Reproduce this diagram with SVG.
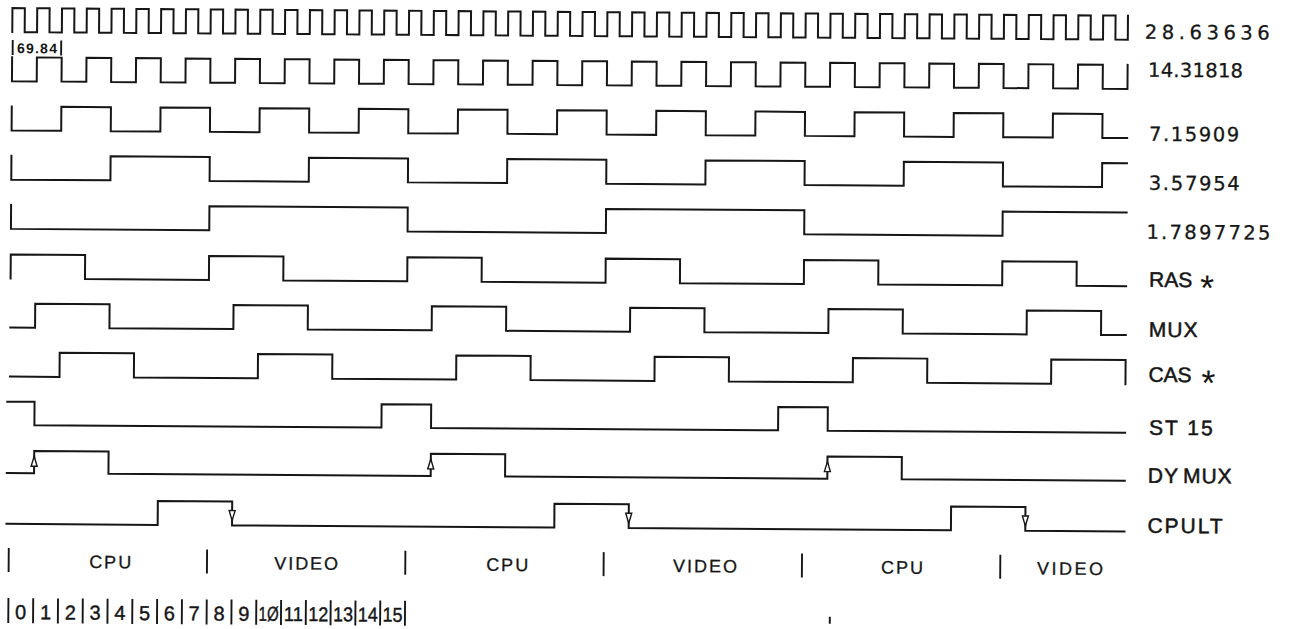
<svg xmlns="http://www.w3.org/2000/svg" width="1290" height="629" viewBox="0 0 1290 629">
<style>
.w{fill:none;stroke:#161616;stroke-width:2;stroke-linejoin:miter;stroke-linecap:square}
.t{stroke:#161616;stroke-width:1.9;fill:none}
.lbl{font-family:"Liberation Sans",Arial,sans-serif;font-size:21px;fill:#161616;stroke:#161616;stroke-width:0.5}
.fq{font-family:"DejaVu Sans","Liberation Sans",sans-serif;font-size:19.5px;fill:#161616;stroke:#161616;stroke-width:0.3}
.seg{font-family:"Liberation Sans",Arial,sans-serif;font-size:18px;fill:#161616;stroke:#161616;stroke-width:0.3;text-anchor:middle}
.num{font-family:"Liberation Sans",Arial,sans-serif;font-size:20px;fill:#161616;stroke:#161616;stroke-width:0.4;text-anchor:middle}
.arr{fill:#fff;stroke:#161616;stroke-width:1.4}
</style>
<defs>
<polygon id="up" class="arr" points="0,-5 3,5 -3,5"/>
<polygon id="dn" class="arr" points="0,5 3,-5 -3,-5"/>
</defs>
<rect width="1290" height="629" fill="#fff"/>
<g transform="rotate(0.39)">
<g id="clk-28">
<path class="w" d="M12.5 32V8
h12.395V32h12.395V8 h12.395V32h12.395V8 h12.395V32h12.395V8 h12.395V32h12.395V8 h12.395V32h12.395V8
h12.395V32h12.395V8 h12.395V32h12.395V8 h12.395V32h12.395V8 h12.395V32h12.395V8 h12.395V32h12.395V8
h12.395V32h12.395V8 h12.395V32h12.395V8 h12.395V32h12.395V8 h12.395V32h12.395V8 h12.395V32h12.395V8
h12.395V32h12.395V8 h12.395V32h12.395V8 h12.395V32h12.395V8 h12.395V32h12.395V8 h12.395V32h12.395V8
h12.395V32h12.395V8 h12.395V32h12.395V8 h12.395V32h12.395V8 h12.395V32h12.395V8 h12.395V32h12.395V8
h12.395V32h12.395V8 h12.395V32h12.395V8 h12.395V32h12.395V8 h12.395V32h12.395V8 h12.395V32h12.395V8
h12.395V32h12.395V8 h12.395V32h12.395V8 h12.395V32h12.395V8 h12.395V32h12.395V8 h12.395V32h12.395V8
h12.395V32h12.395V8 h12.395V32h12.395V8 h12.395V32h12.395V8 h12.395V32h12.395V8 h12.395V32h12.395V8
h12.395V32h12.395V8 h12.395V32h12.395V8 h12.395V32h12.395V8 h12.395V32h12.395V8 h12.395V32h12.395V8"/>
<text class="fq" x="1145" y="31" textLength="125" lengthAdjust="spacing">28.63636</text>
</g>
<g id="period-note">
<path class="t" d="M13 40V55M61.5 40V55"/>
<text x="37.3" y="53" font-family="'Liberation Sans',Arial,sans-serif" font-size="14" font-weight="bold" fill="#161616" text-anchor="middle" textLength="40" lengthAdjust="spacing">69.84</text>
</g>
<g id="clk-14">
<path class="w" d="M12.5 57.2V81.2
h24.79V57.2h24.79V81.2 h24.79V57.2h24.79V81.2
h24.79V57.2h24.79V81.2 h24.79V57.2h24.79V81.2
h24.79V57.2h24.79V81.2 h24.79V57.2h24.79V81.2
h24.79V57.2h24.79V81.2 h24.79V57.2h24.79V81.2
h24.79V57.2h24.79V81.2 h24.79V57.2h24.79V81.2
h24.79V57.2h24.79V81.2 h24.79V57.2h24.79V81.2
h24.79V57.2h24.79V81.2 h24.79V57.2h24.79V81.2
h24.79V57.2h24.79V81.2 h24.79V57.2h24.79V81.2
h24.79V57.2h24.79V81.2 h24.79V57.2h24.79V81.2
h24.79V57.2h24.79V81.2 h24.79V57.2h24.79V81.2
h24.79V57.2h24.79V81.2 h24.79V57.2h24.79V81.2
h24.79V57.2"/>
<text class="fq" x="1148.5" y="69" textLength="95" lengthAdjust="spacing">14.31818</text>
</g>
<g id="clk-7">
<path class="w" d="M12.5 106.4V130.4
h49.58V106.4h49.58V130.4
h49.58V106.4h49.58V130.4
h49.58V106.4h49.58V130.4
h49.58V106.4h49.58V130.4
h49.58V106.4h49.58V130.4
h49.58V106.4h49.58V130.4
h49.58V106.4h49.58V130.4
h49.58V106.4h49.58V130.4
h49.58V106.4h49.58V130.4
h49.58V106.4h49.58V130.4
h49.58V106.4h49.58V130.4
h24.79"/>
<text class="fq" x="1150" y="133" textLength="90" lengthAdjust="spacing">7.15909</text>
</g>
<g id="clk-3">
<path class="w" d="M12.5 155.6V179.6
h99.16V155.6h99.16V179.6
h99.16V155.6h99.16V179.6
h99.16V155.6h99.16V179.6
h99.16V155.6h99.16V179.6
h99.16V155.6h99.16V179.6
h99.16V155.6h24.79"/>
<text class="fq" x="1150" y="182" textLength="91" lengthAdjust="spacing">3.57954</text>
</g>
<g id="clk-1">
<path class="w" d="M12.5 204.8V228.8h198.32V204.8h198.32V228.8h198.32V204.8h198.32V228.8h198.32V204.8h123.95"/>
<text class="fq" x="1148" y="231" textLength="124" lengthAdjust="spacing">1.7897725</text>
</g>
<g id="ras">
<path class="w" d="M12.5 278.5V254.5H86.87V278.5H210.82V254.5H285.19V278.5H409.14V254.5H483.51V278.5H607.46V254.5H681.83V278.5H805.78V254.5H880.15V278.5H1004.1V254.5H1078.47V278.5H1128.05"/>
<text class="lbl" x="1151" y="279">RAS <tspan font-size="36" dy="13" dx="2" stroke-width="0">*</tspan></text>
</g>
<g id="mux">
<path class="w" d="M12.5 327.4H37.29V303.4H111.66V327.4H235.61V303.4H309.98V327.4H433.93V303.4H508.3V327.4H632.25V303.4H706.62V327.4H830.57V303.4H904.94V327.4H1028.89V303.4H1103.26V327.4H1128.05"/>
<text class="lbl" x="1151" y="329" letter-spacing="1">MUX</text>
</g>
<g id="cas">
<path class="w" d="M12.5 376.5H62.08V352.3H136.45V376.5H260.4V352.3H334.77V376.5H458.72V352.3H533.09V376.5H657.04V352.3H731.41V376.5H855.36V352.3H929.73V376.5H1053.68V352.3H1128.05V376.5"/>
<text class="lbl" x="1151" y="374">CAS <tspan font-size="36" dy="13" dx="4" stroke-width="0">*</tspan></text>
</g>
<g id="st15">
<path class="w" d="M10 401.6H37.29V425H384.35V401.6H433.93V425H780.99V401.6H830.57V425H1128.05"/>
<text class="lbl" x="1152" y="427" letter-spacing="2">ST 15</text>
</g>
<g id="dymux">
<path class="w" d="M10 473H37.29V450.8H111.66V473H433.93V450.8H508.3V473H830.57V450.8H904.94V473H1128.05"/>
<text class="lbl" x="1151" y="475" letter-spacing="1">DY<tspan dx="4">MUX</tspan></text>
</g>
<g id="cpult">
<path class="w" d="M10 523.8H161.24V500H235.61V523.8H557.88V500H632.25V523.8H954.52V500H1028.89V523.8H1128.05"/>
<text class="lbl" x="1151" y="525" letter-spacing="2">CPULT</text>
</g>
<g id="connectors">
<use href="#up" x="37.29" y="461"/>
<use href="#up" x="433.93" y="461"/>
<use href="#up" x="830.57" y="461"/>
<use href="#dn" x="235.61" y="514"/>
<use href="#dn" x="632.25" y="514"/>
<use href="#dn" x="1028.89" y="514"/>
</g>
<g id="cycles">
<path class="t" d="M12.5 548V572M210.82 548V572M409.14 548V572M607.46 548V572M805.78 548V572M1004.1 548V572"/>
<text class="seg" x="114" y="567.5" textLength="42" lengthAdjust="spacing">CPU</text>
<text class="seg" x="310" y="567.5" textLength="64" lengthAdjust="spacing">VIDEO</text>
<text class="seg" x="511" y="567.5" textLength="42" lengthAdjust="spacing">CPU</text>
<text class="seg" x="709" y="567.5" textLength="64" lengthAdjust="spacing">VIDEO</text>
<text class="seg" x="906" y="567.5" textLength="42" lengthAdjust="spacing">CPU</text>
<text class="seg" x="1074" y="567.5" textLength="66" lengthAdjust="spacing">VIDEO</text>
</g>
<g id="counts">
<path class="t" d="M12.5 598V623M37.29 598V623M62.08 598V623M86.87 598V623M111.66 598V623M136.45 598V623M161.24 598V623M186.03 598V623M210.82 598V623M235.61 598V623M260.4 598V623M285.19 598V623M309.98 598V623M334.77 598V623M359.56 598V623M384.35 598V623M409.14 598V623"/>
<text class="num" x="24.9" y="619">0</text>
<text class="num" x="49.7" y="619">1</text>
<text class="num" x="74.5" y="619">2</text>
<text class="num" x="99.3" y="619">3</text>
<text class="num" x="124.1" y="619">4</text>
<text class="num" x="148.8" y="619">5</text>
<text class="num" x="173.6" y="619">6</text>
<text class="num" x="198.4" y="619">7</text>
<text class="num" x="223.2" y="619">8</text>
<text class="num" x="248" y="619">9</text>
<text class="num" x="272.8" y="619" textLength="20" lengthAdjust="spacingAndGlyphs">1Ø</text>
<text class="num" x="297.6" y="619" textLength="19" lengthAdjust="spacingAndGlyphs">11</text>
<text class="num" x="322.4" y="619" textLength="20" lengthAdjust="spacingAndGlyphs">12</text>
<text class="num" x="347.2" y="619" textLength="20" lengthAdjust="spacingAndGlyphs">13</text>
<text class="num" x="372" y="619" textLength="20" lengthAdjust="spacingAndGlyphs">14</text>
<text class="num" x="396.8" y="619" textLength="20" lengthAdjust="spacingAndGlyphs">15</text>
</g>
<path class="t" d="M834 611V618"/>
</g>
</svg>
